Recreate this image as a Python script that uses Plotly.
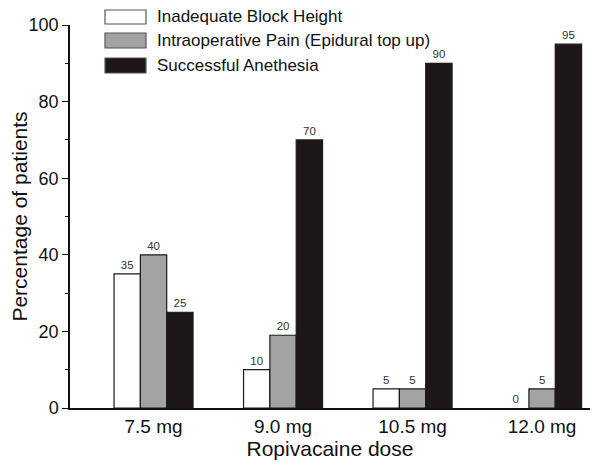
import plotly.graph_objects as go

# data
doses = ['7.5 mg', '9.0 mg', '10.5 mg', '12.0 mg']
series_names = ['Inadequate Block Height', 'Intraoperative Pain (Epidural top up)', 'Successful Anethesia']
inadequate_block = [35, 10, 5, 0]
intraop_pain = [40, 19, 5, 5]
intraop_pain_labels = ['40', '20', '5', '5']
successful = [25, 70, 90, 95]

colors = ['#ffffff', '#a3a3a3', '#1d1817']
FONT = 'Liberation Sans, Arial, sans-serif'

# page body has an 8px margin, so the figure is 8px smaller than the window
OFF = 8
W, H = 600 - OFF, 467 - OFF
ML, MR, MT, MB = 70 - OFF, 10, 25 - OFF, 59
PW, PH = W - ML - MR, H - MT - MB


def px_x(x):
    return (x - OFF - ML) / PW


def px_y(y):
    return (H - MB - (y - OFF)) / PH


xpos = list(range(len(doses)))
values = [inadequate_block, intraop_pain, successful]
labels = [[str(v) for v in inadequate_block], intraop_pain_labels, [str(v) for v in successful]]

fig = go.Figure()
for name, vals, txt, col in zip(series_names, values, labels, colors):
    fig.add_trace(go.Bar(
        x=xpos, y=vals, name=name, text=txt, textposition='outside',
        textfont=dict(size=11.5, color='#333333', family=FONT),
        marker=dict(color=col, line=dict(color='#1a1a1a', width=[0 if v == 0 else 1.2 for v in vals])),
        cliponaxis=False, showlegend=False,
    ))

# hand drawn legend (boxes are wide, as in the reference)
rows = [(10, 24), (33, 48), (58, 73)]
for (top, bot), name, col in zip(rows, series_names, colors):
    fig.add_shape(type='rect', xref='paper', yref='paper',
                  x0=px_x(105), x1=px_x(146), y0=px_y(bot), y1=px_y(top),
                  fillcolor=col, line=dict(color='#555555', width=1.2))
    fig.add_annotation(xref='paper', yref='paper', x=px_x(155), y=px_y((top + bot) / 2),
                       text=name, showarrow=False, xanchor='left', yanchor='middle',
                       font=dict(size=17, color='#111111', family=FONT))

fig.update_layout(
    width=W, height=H,
    margin=dict(l=ML, r=MR, t=MT, b=MB, autoexpand=False),
    paper_bgcolor='white', plot_bgcolor='white',
    barmode='group', bargap=0.39, bargroupgap=0,
    font=dict(family=FONT, color='#111111'),
    xaxis=dict(
        range=[-0.645, 3.37], tickvals=xpos, ticktext=doses,
        showline=True, linecolor='#111111', linewidth=1.5,
        ticks='', showgrid=False, zeroline=False, automargin=False,
        tickfont=dict(size=19),
        title=dict(text='Ropivacaine dose', font=dict(size=21), standoff=0),
    ),
    yaxis=dict(
        range=[0, 100], dtick=20, ticks='outside', ticklen=6, tickwidth=1.2,
        tickcolor='#111111', automargin=False,
        minor=dict(ticks='outside', ticklen=3, dtick=10, tickcolor='#111111'),
        showline=True, linecolor='#111111', linewidth=1.5,
        showgrid=False, zeroline=False,
        tickfont=dict(size=18),
        title=dict(text='Percentage of patients', font=dict(size=21), standoff=2),
    ),
)

fig.write_html('out.html')
